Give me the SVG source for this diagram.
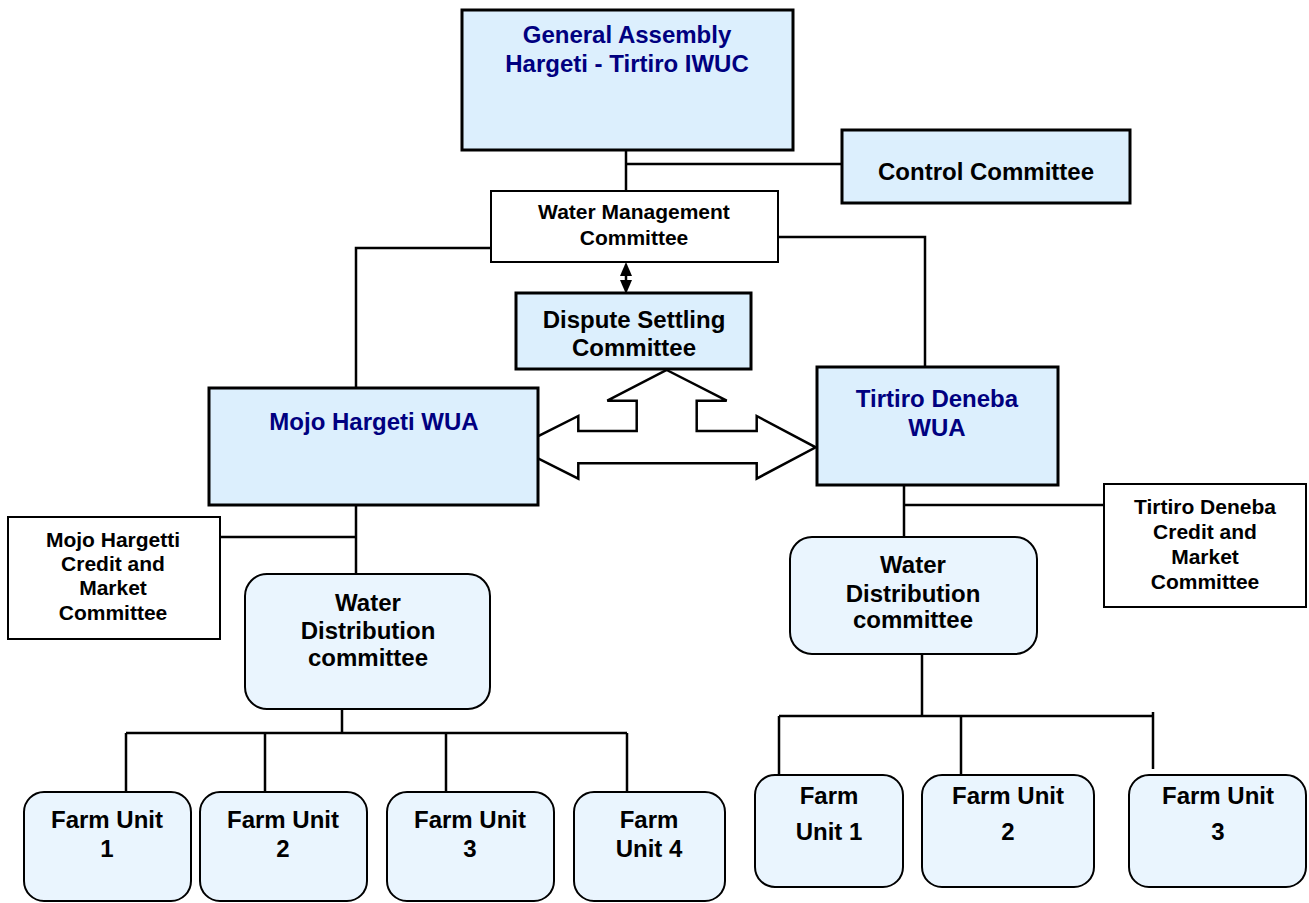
<svg xmlns="http://www.w3.org/2000/svg" width="1309" height="903" viewBox="0 0 1309 903">
<style>
text{font-family:"Liberation Sans",Arial,sans-serif;font-weight:bold;text-anchor:middle;fill:#000}
.navy{fill:#000080}
.big{font-size:24px}
.mid{font-size:21px}
.sm{font-size:21px}
.box{fill:#DCEFFD;stroke:#000;stroke-width:3}
.wbox{fill:#fff;stroke:#000;stroke-width:2}
.rbox{fill:#EAF5FE;stroke:#000;stroke-width:2}
.ln{stroke:#000;stroke-width:2.5;fill:none}
.head{fill:#000}
</style>
<rect width="1309" height="903" fill="#fff"/>
<g id="connectors">
<path class="ln" d="M626,150 V203 M626,164 H842"/>
<path class="ln" d="M491,248 H356 V388"/>
<path class="ln" d="M778,237 H925 V367"/>
<line x1="626" y1="272" x2="626" y2="284" stroke="#000" stroke-width="2.5"/>
<polygon class="head" points="626,262 620,276 632,276"/>
<polygon class="head" points="626,294 620,280 632,280"/>
<path d="M666.7,370 L726.7,400.7 H696.7 V431 H756.7 V416 L815.7,447.3 L756.7,478.6 V463.3 H578.3 V478.6 L516,447.3 L578.3,416 V431 H636.7 V400.7 H607.3 Z" fill="#fff" stroke="#000" stroke-width="2.5" stroke-linejoin="miter"/>
<path class="ln" d="M356,500 V574 M220,537 H356"/>
<path class="ln" d="M904,485 V548 M904,505 H1104"/>
<path class="ln" d="M342,709 V733 M126,733 H627 M126,733 V792 M265,733 V792 M446,733 V792 M627,733 V792"/>
<line x1="126" y1="792" x2="126" y2="812" stroke="#777" stroke-width="1.2"/>
<path class="ln" d="M922,654 V716 M779,716 H1153 M779,716 V775 M961,716 V775 M1153,712 V769"/>
</g>
<g id="general-assembly">
<rect class="box" x="462" y="10" width="331" height="140"/>
<text class="big navy" x="627" y="43">General Assembly</text>
<text class="big navy" x="627" y="72">Hargeti - Tirtiro IWUC</text>
</g>
<g id="control-committee">
<rect class="box" x="842" y="130" width="288" height="73"/>
<text class="big" x="986" y="180">Control Committee</text>
</g>
<g id="water-management">
<rect class="wbox" x="491" y="191" width="287" height="71"/>
<text class="mid" x="634" y="219">Water Management</text>
<text class="mid" x="634" y="245">Committee</text>
</g>
<g id="dispute-settling">
<rect class="box" x="516" y="293" width="235" height="76"/>
<text class="big" x="634" y="328">Dispute Settling</text>
<text class="big" x="634" y="356">Committee</text>
</g>
<g id="mojo-wua">
<rect class="box" x="209" y="388" width="329" height="117"/>
<text class="big navy" x="374" y="430">Mojo Hargeti WUA</text>
</g>
<g id="tirtiro-wua">
<rect class="box" x="817" y="367" width="241" height="118"/>
<text class="big navy" x="937" y="407">Tirtiro Deneba</text>
<text class="big navy" x="937" y="436">WUA</text>
</g>
<g id="mojo-credit">
<rect class="wbox" x="8" y="517" width="212" height="122"/>
<text class="sm" x="113" y="547">Mojo Hargetti</text>
<text class="sm" x="113" y="571">Credit and</text>
<text class="sm" x="113" y="595">Market</text>
<text class="sm" x="113" y="620">Committee</text>
</g>
<g id="tirtiro-credit">
<rect class="wbox" x="1104" y="484" width="202" height="123"/>
<text class="sm" x="1205" y="514">Tirtiro Deneba</text>
<text class="sm" x="1205" y="539">Credit and</text>
<text class="sm" x="1205" y="564">Market</text>
<text class="sm" x="1205" y="589">Committee</text>
</g>
<g id="water-dist-left">
<rect class="rbox" x="245" y="574" width="245" height="135" rx="22"/>
<text class="big" x="368" y="611">Water</text>
<text class="big" x="368" y="639">Distribution</text>
<text class="big" x="368" y="666">committee</text>
</g>
<g id="water-dist-right">
<rect class="rbox" x="790" y="537" width="247" height="117" rx="22"/>
<text class="big" x="913" y="573">Water</text>
<text class="big" x="913" y="602">Distribution</text>
<text class="big" x="913" y="628">committee</text>
</g>
<g id="farm-left-1">
<rect class="rbox" x="24" y="792" width="167" height="109" rx="20"/>
<text class="big" x="107" y="828">Farm Unit</text>
<text class="big" x="107" y="857">1</text>
</g>
<g id="farm-left-2">
<rect class="rbox" x="200" y="792" width="167" height="109" rx="20"/>
<text class="big" x="283" y="828">Farm Unit</text>
<text class="big" x="283" y="857">2</text>
</g>
<g id="farm-left-3">
<rect class="rbox" x="387" y="792" width="167" height="109" rx="20"/>
<text class="big" x="470" y="828">Farm Unit</text>
<text class="big" x="470" y="857">3</text>
</g>
<g id="farm-left-4">
<rect class="rbox" x="574" y="792" width="151" height="109" rx="20"/>
<text class="big" x="649" y="828">Farm</text>
<text class="big" x="649" y="857">Unit 4</text>
</g>
<g id="farm-right-1">
<rect class="rbox" x="755" y="775" width="148" height="112" rx="20"/>
<text class="big" x="829" y="804">Farm</text>
<text class="big" x="829" y="840">Unit 1</text>
</g>
<g id="farm-right-2">
<rect class="rbox" x="922" y="775" width="172" height="112" rx="20"/>
<text class="big" x="1008" y="804">Farm Unit</text>
<text class="big" x="1008" y="840">2</text>
</g>
<g id="farm-right-3">
<rect class="rbox" x="1129" y="775" width="177" height="112" rx="20"/>
<text class="big" x="1218" y="804">Farm Unit</text>
<text class="big" x="1218" y="840">3</text>
</g>
</svg>
